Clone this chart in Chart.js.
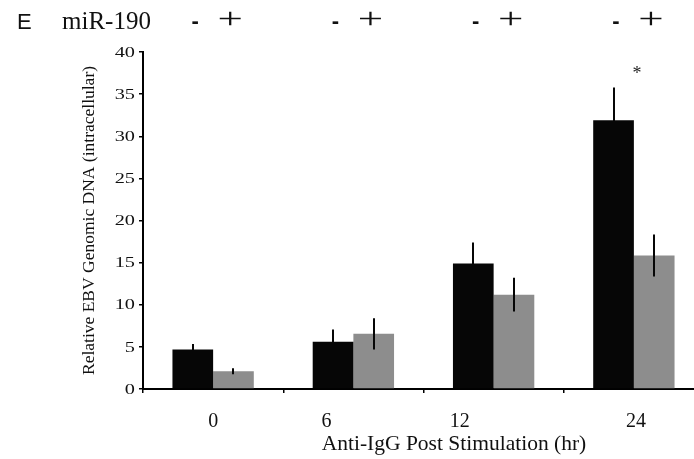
<!DOCTYPE html>
<html>
<head>
<meta charset="utf-8">
<script src="https://cdn.jsdelivr.net/npm/chart.js@4/dist/chart.umd.min.js"></script>
<style>
  html, body { margin: 0; padding: 0; background: #fff; overflow: hidden; }
  #chart { position: absolute; left: 0; top: 0; }
</style>
</head>
<body>
<canvas id="chart" width="720" height="459"></canvas>
<script>
// Hours after anti-IgG stimulation
const hours = ['0', '6', '12', '24'];

// miR-190 absent (-) / present (+)
const minusValues = [4.7, 5.6, 14.9, 31.9];
const minusErrors = [0.65, 1.45, 2.5, 3.9];
const plusValues = [2.1, 6.55, 11.2, 15.85];
const plusErrors = [0.35, 1.85, 2.0, 2.5];
const seriesSigns = ['-', '+'];

const yTicksStep = 5;
const yMax = 40;

const serif = '"Liberation Serif", "Times New Roman", serif';
const sans = '"Liberation Sans", Arial, sans-serif';

// text, error bars and the significance mark
const annotate = {
    id: 'annotate',
    afterDatasetsDraw(chart) {
        const ctx = chart.ctx;
        const y = chart.scales.y;
        ctx.save();
        ctx.strokeStyle = '#060606';
        ctx.lineWidth = 2;
        chart.data.datasets.forEach((ds, di) => {
            chart.getDatasetMeta(di).data.forEach((bar, i) => {
                const v = ds.data[i], e = ds.errors[i];
                const bx = Math.round(bar.x);
                ctx.beginPath();
                ctx.moveTo(bx, y.getPixelForValue(v + e));
                ctx.lineTo(bx, y.getPixelForValue(v - e));
                ctx.stroke();
            });
        });
        ctx.restore();
    },
    afterDraw(chart) {
        const ctx = chart.ctx;
        const x = chart.scales.x, y = chart.scales.y;
        const area = chart.chartArea;
        ctx.save();
        ctx.fillStyle = '#111';

        // y tick labels, set a little wide
        ctx.font = '14px ' + serif;
        ctx.textAlign = 'right';
        y.ticks.forEach(t => {
            ctx.save();
            ctx.translate(area.left - 8, y.getPixelForValue(t.value) + 4.7);
            ctx.scale(1.45, 1);
            ctx.fillText(String(t.value), 0, 0);
            ctx.restore();
        });

        // x tick labels
        const labelShift = [0, -27, -34, 2];
        ctx.font = '20px ' + serif;
        ctx.textAlign = 'center';
        hours.forEach((h, i) => {
            ctx.fillText(h, x.getPixelForValue(i) + labelShift[i], 427);
        });
        ctx.font = '21.5px ' + serif;
        ctx.fillText('Anti-IgG Post Stimulation (hr)', 454, 450);

        // header row
        ctx.textAlign = 'left';
        ctx.font = '22px ' + sans;
        ctx.fillText('E', 17, 29);
        ctx.font = '25px ' + serif;
        ctx.fillText('miR-190', 62, 29);
        ctx.textAlign = 'center';
        hours.forEach((h, i) => {
            const cx = x.getPixelForValue(i);
            ctx.font = 'bold 22px ' + sans;
            ctx.fillText(seriesSigns[0], cx - 18, 28);
            ctx.save();
            ctx.translate(cx + 17, 28);
            ctx.scale(1.5, 1);
            ctx.font = '30px ' + serif;
            ctx.fillText(seriesSigns[1], 0, 0);
            ctx.restore();
        });

        // significance at 24 hr
        ctx.font = '18px ' + serif;
        ctx.fillStyle = '#222';
        ctx.fillText('*', x.getPixelForValue(3) + 3, 79);
        ctx.restore();
    }
};

const ctx = document.getElementById('chart').getContext('2d');
new Chart(ctx, {
    type: 'bar',
    data: {
        labels: hours,
        datasets: [
            {
                label: 'miR-190 -',
                data: minusValues,
                errors: minusErrors,
                backgroundColor: '#060606',
                categoryPercentage: 0.58,
                barPercentage: 1.0
            },
            {
                label: 'miR-190 +',
                data: plusValues,
                errors: plusErrors,
                backgroundColor: '#8d8d8d',
                categoryPercentage: 0.58,
                barPercentage: 1.0
            }
        ]
    },
    options: {
        responsive: false,
        animation: false,
        devicePixelRatio: 1,
        layout: { padding: { left: 0, top: 52, right: 16, bottom: 0 } },
        plugins: {
            legend: { display: false },
            tooltip: { enabled: false }
        },
        scales: {
            x: {
                ticks: { display: false },
                grid: {
                    drawOnChartArea: false,
                    drawTicks: true,
                    tickLength: 4,
                    color: '#000',
                    lineWidth: 1.5
                },
                border: { display: true, color: '#000', width: 2 },
                afterFit: (scale) => { scale.height = 70; }
            },
            y: {
                min: 0,
                max: yMax,
                ticks: { display: false, stepSize: yTicksStep },
                grid: {
                    drawOnChartArea: false,
                    drawTicks: true,
                    tickLength: 4,
                    color: '#000',
                    lineWidth: 1.5
                },
                border: { display: true, color: '#000', width: 2 },
                title: {
                    display: true,
                    text: 'Relative EBV Genomic DNA (intracellular)',
                    color: '#111',
                    font: { family: serif, size: 17.5 },
                    padding: { top: 79, bottom: 0 }
                },
                afterFit: (scale) => { scale.width = 143; }
            }
        }
    },
    plugins: [annotate]
});
</script>
</body>
</html>
